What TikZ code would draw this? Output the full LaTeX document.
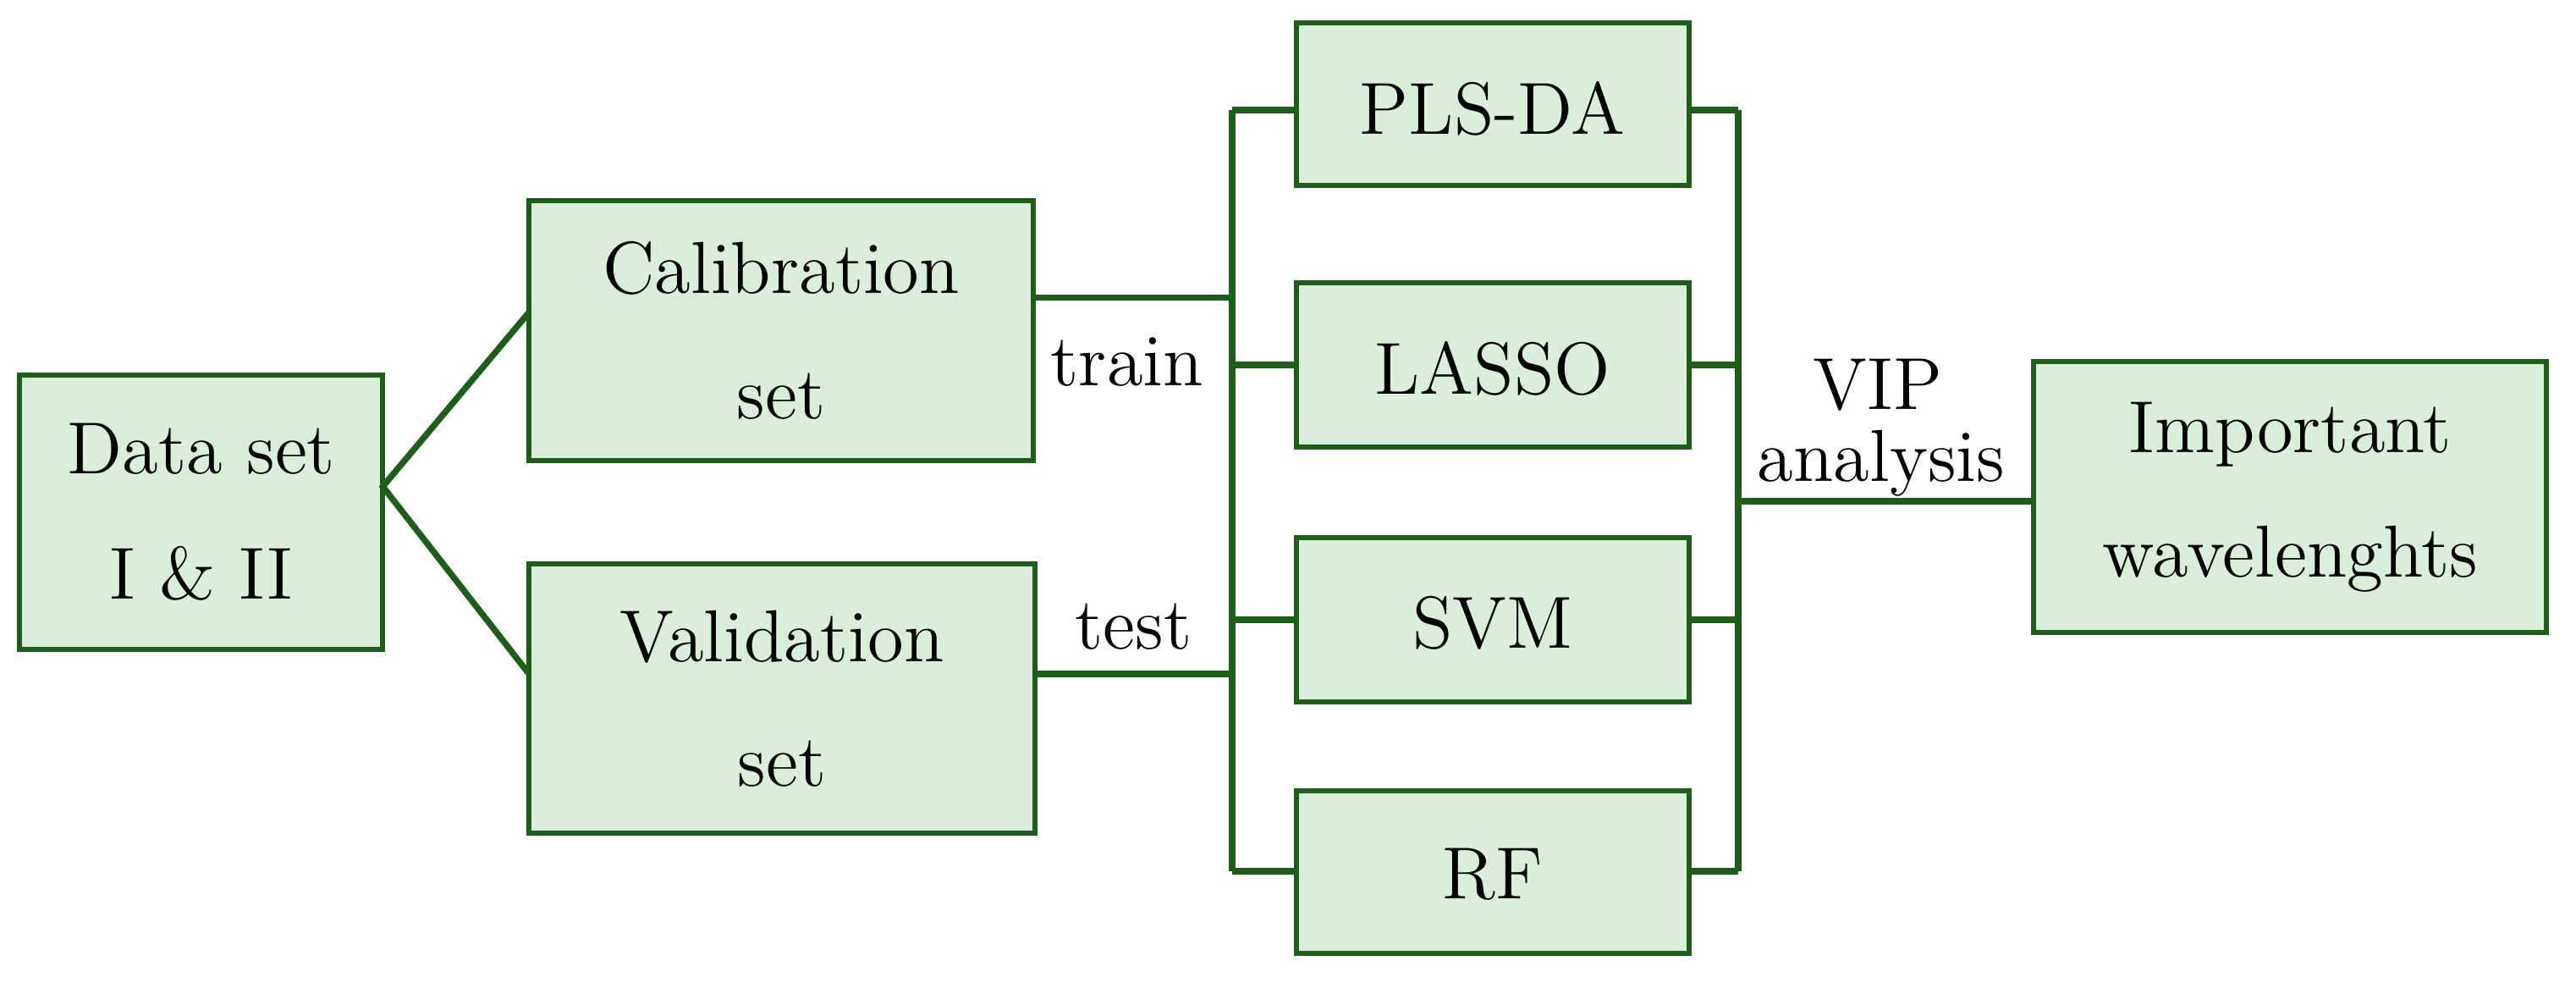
\documentclass[tikz,border=0pt]{standalone}
\begin{document}
\begin{tikzpicture}[x=0.0102cm,y=-0.0102cm,
  bx/.style={draw=dg,fill=lg,line width=0.9pt},
  ln/.style={draw=dg,line width=1.1pt},
  lbl/.style={font=\fontsize{13}{16}\selectfont}]
\definecolor{dg}{HTML}{1E5E1A}
\definecolor{lg}{HTML}{D9EFD9}
\useasboundingbox (0,0) rectangle (1568,598);
\path[bx] (12,228) rectangle (233,395); \node[lbl,align=center] (ds) at (122.5,311.5) {Data set\\[6pt]I \& II};
\path[bx] (322,122) rectangle (629,280); \node[lbl,align=center] (cal) at (475.5,201) {Calibration\\[6pt]set};
\path[bx] (322,343) rectangle (630,507); \node[lbl,align=center] (val) at (476,425) {Validation\\[6pt]set};
\path[bx] (789,14) rectangle (1028,113); \node[lbl] (pls) at (908.5,66) {PLS-DA};
\path[bx] (789,172) rectangle (1028,272); \node[lbl] (las) at (908.5,224) {LASSO};
\path[bx] (789,327) rectangle (1028,427); \node[lbl] (svm) at (908.5,379) {SVM};
\path[bx] (789,481) rectangle (1028,580); \node[lbl] (rf) at (908.5,532) {RF};
\path[bx] (1238,220) rectangle (1550,385); \node[lbl,align=center] (imp) at (1394,302.5) {Important\\[6pt]wavelenghts};
\coordinate (f) at (233,296);
\draw[ln] (322,190) -- (f) -- (322,410);
\draw[ln] (629,181) -- (750,181);
\draw[ln] (630,410) -- (750,410);
\draw[ln] (750,67) -- (750,530);
\foreach \y in {67,222,377,530}{\draw[ln] (750,\y) -- (789,\y); \draw[ln] (1028,\y) -- (1058,\y);}
\draw[ln] (1058,67) -- (1058,530);
\draw[ln] (1058,305) -- (1238,305);
\node[lbl] (tr) at (686,220) {train};
\node[lbl] (te) at (690,381) {test};
\node[lbl] (vip) at (1143,234) {VIP};
\node[lbl] (an) at (1145,282) {analysis};
\end{tikzpicture}
\end{document}
